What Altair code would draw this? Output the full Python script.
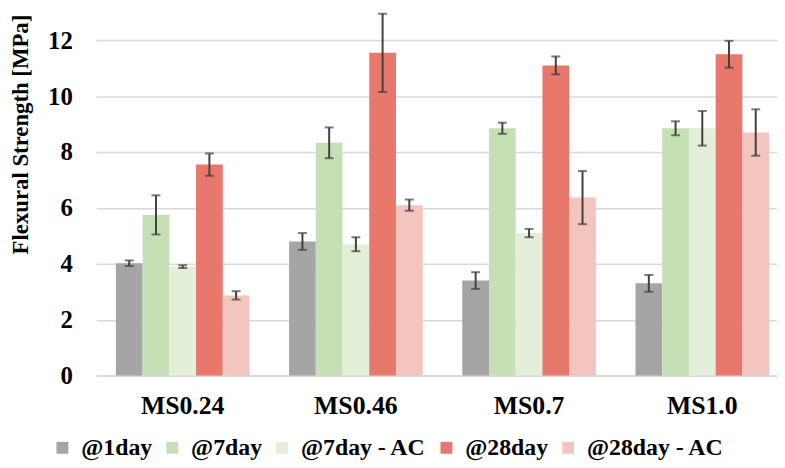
import altair as alt
import pandas as pd

categories = ["MS0.24", "MS0.46", "MS0.7", "MS1.0"]
series = ["@1day", "@7day", "@7day - AC", "@28day", "@28day - AC"]
colors = ["#a5a5a5", "#c5e0b4", "#e3efd9", "#e8786b", "#f4c4bf"]

val_1day = [4.02, 4.80, 3.40, 3.30]
val_7day = [5.75, 8.33, 8.85, 8.85]
val_7day_ac = [3.90, 4.70, 5.10, 8.85]
val_28day = [7.55, 11.55, 11.10, 11.50]
val_28day_ac = [2.87, 6.10, 6.37, 8.70]

err_1day = [0.10, 0.30, 0.30, 0.30]
err_7day = [0.70, 0.55, 0.20, 0.25]
err_7day_ac = [0.05, 0.25, 0.15, 0.62]
err_28day = [0.40, 1.40, 0.32, 0.48]
err_28day_ac = [0.15, 0.20, 0.95, 0.83]

vals = [val_1day, val_7day, val_7day_ac, val_28day, val_28day_ac]
errs = [err_1day, err_7day, err_7day_ac, err_28day, err_28day_ac]

rows = []
for s, v, e in zip(series, vals, errs):
    for c, vv, ee in zip(categories, v, e):
        rows.append({"cat": c, "series": s, "value": vv, "lo": vv - ee, "hi": vv + ee})
df = pd.DataFrame(rows)

FONT = "Liberation Serif"

x = alt.X("cat:N", sort=categories, title=None,
          scale=alt.Scale(range=[0, 700], paddingInner=0.2286, paddingOuter=0.1143),
          axis=alt.Axis(labelAngle=0, labelFont=FONT, labelFontSize=26, labelFontWeight="bold",
                        labelColor="#000000", labelPadding=17, ticks=False,
                        domainColor="#d9d9d9", domainWidth=1.5))
xo = alt.XOffset("series:N", sort=series, scale=alt.Scale(paddingInner=0, paddingOuter=0))

base = alt.Chart(df)

bars = base.mark_bar().encode(
    x=x, xOffset=xo,
    y=alt.Y("value:Q", title="Flexural Strength [MPa]",
            scale=alt.Scale(domain=[0, 13], nice=False),
            axis=alt.Axis(values=[0, 2, 4, 6, 8, 10, 12], labelFont=FONT, labelFontSize=25,
                          labelFontWeight="bold", labelColor="#000000", titleFont=FONT,
                          titleFontSize=23, titleFontWeight="bold", titleColor="#000000",
                          domain=False, ticks=False, labelPadding=24,
                          titleAnchor="middle", titleX=-76, titleY=123, titleBaseline="middle",
                          titleAngle=270,
                          gridColor="#d9d9d9", gridWidth=1.5)),
    color=alt.Color("series:N", sort=series, title=None,
                    scale=alt.Scale(domain=series, range=colors),
                    legend=alt.Legend(orient="none", legendX=-46, legendY=428,
                                      direction="horizontal", symbolType="square",
                                      symbolSize=144, symbolStrokeWidth=0, labelFont=FONT,
                                      labelFontSize=24, labelFontWeight="bold", labelColor="#000000",
                                      columnPadding=8, symbolOpacity=1, labelOffset=7)),
)

rules = base.mark_rule(color="#404040", strokeWidth=2).encode(
    x=x, xOffset=xo, y="lo:Q", y2="hi:Q")
cap_lo = base.mark_tick(color="#404040", thickness=2, size=9).encode(
    x=x, xOffset=xo, y="lo:Q")
cap_hi = base.mark_tick(color="#404040", thickness=2, size=9).encode(
    x=x, xOffset=xo, y="hi:Q")

chart = alt.layer(bars, rules, cap_lo, cap_hi).properties(
    width=688, height=367,
    autosize=alt.AutoSizeParams(type="none"),
    padding={"left": 89, "top": 2, "right": 0, "bottom": 90},
).configure_view(stroke=None).configure_axisX(grid=False)

chart.save("out.html", embed_options={"renderer": "svg", "actions": False})
